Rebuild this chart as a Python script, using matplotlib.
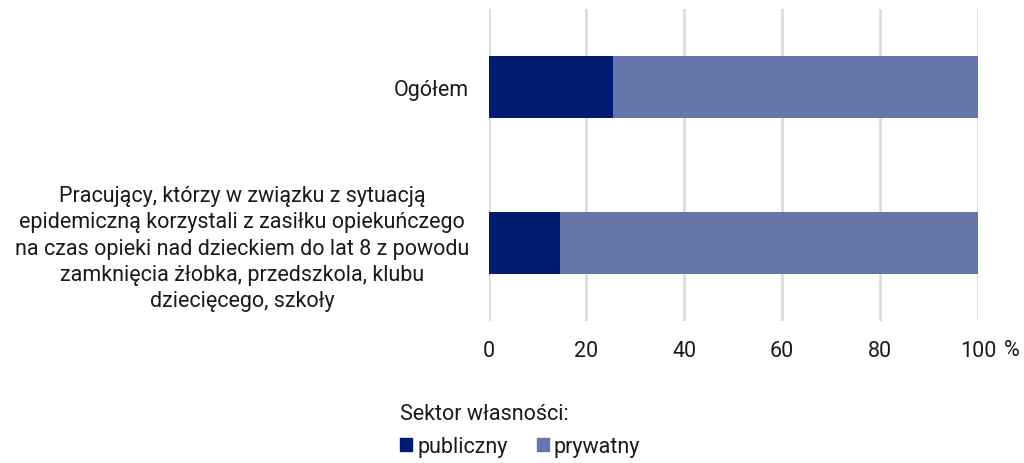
import matplotlib
matplotlib.use("Agg")
import matplotlib.pyplot as plt
from matplotlib.patches import Patch

plt.rcParams['font.family'] = ['Roboto', 'DejaVu Sans']

categories = [
    "Ogółem",
    "Pracujący, którzy w związku z sytuacją\nepidemiczną korzystali z zasiłku opiekuńczego\nna czas opieki nad dzieckiem do lat 8 z powodu\nzamknięcia żłobka, przedszkola, klubu\ndziecięcego, szkoły",
]
publiczny = [25.5, 14.6]
prywatny = [74.5, 85.4]
xticks = [0, 20, 40, 60, 80, 100]

c_pub = "#001c71"
c_pry = "#6676ab"
txt = "#1a1a1a"
fs = 15.5

fig = plt.figure(figsize=(10.24, 4.64), dpi=100)
ax = fig.add_axes([488.5/1024, 1-322/464, (978-488.5)/1024, 312/464])

y = list(range(len(categories)))
ax.barh(y, publiczny, height=0.4, color=c_pub, zorder=3)
ax.barh(y, prywatny, left=publiczny, height=0.4, color=c_pry, zorder=3)

ax.set_ylim(1.5, -0.5)
ax.set_xlim(0, 100)
ax.set_yticks(y)
ax.set_yticklabels(categories, fontsize=fs, color=txt, ha='right', multialignment='center', linespacing=1.32)
ax.tick_params(axis='y', length=0, pad=14)
ax.set_xticks(xticks)
ax.set_xticklabels([str(v) for v in xticks], fontsize=fs, color=txt)
ax.tick_params(axis='x', length=0, pad=14)
ax.grid(axis='x', color='#d9d9d9', linewidth=1.8, zorder=0)
for s in ax.spines.values():
    s.set_visible(False)

fig.text(1012/1024, 1-351/464, "%", fontsize=fs, color=txt, ha='center', va='center')

handles = [Patch(color=c_pub, label="publiczny"), Patch(color=c_pry, label="prywatny")]
leg = fig.legend(handles=handles, loc='upper left', bbox_to_anchor=(400/1024, 1-404/464),
                 ncol=2, frameon=False, fontsize=fs, title="Sektor własności:",
                 title_fontsize=fs, handlelength=0.55, handleheight=0.55, handletextpad=0.25,
                 columnspacing=1.35, labelcolor=txt, borderaxespad=0, borderpad=0,
                 labelspacing=0.3)
leg._legend_box.align = "left"
leg._legend_box.sep = 9
leg.get_title().set_color(txt)

fig.savefig("out.png", dpi=100)
